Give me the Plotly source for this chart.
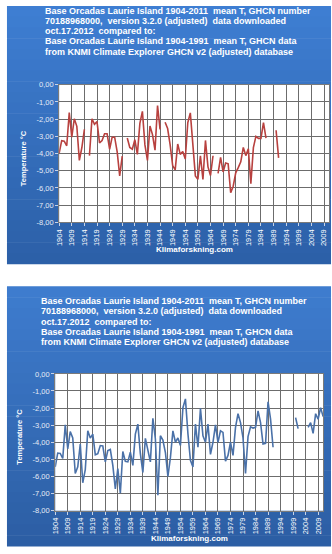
import plotly.graph_objects as go

# ---------------- data ----------------
years_v2 = list(range(1904, 1992))
temp_v2 = [
    -3.98, -3.25, -3.28, -3.55, -1.62, -3.05, -1.98, -2.42, -4.40, -3.65,  # 1904-1913
    -2.60, None, -4.12, -1.98, -2.30, -2.15, -3.38, -3.25, -2.85, -2.85,   # 1914-1923
    -3.75, -3.05, -3.05, -3.90, -5.30, -4.15, None, -3.10, -3.65, -3.75,   # 1924-1933
    -3.20, -4.05, -2.25, -1.55, -3.50, -4.40, -2.40, -2.90, -3.80, -1.22,  # 1934-1943
    -2.60, None, -2.18, -2.55, -3.50, -4.70, -4.95, -3.45, -4.05, -3.88,   # 1944-1953
    -4.32, -2.20, -1.64, -3.55, -5.30, -5.50, -4.13, -5.50, -3.24, -4.78,  # 1954-1963
    -5.27, -4.13, None, -5.16, -4.22, -5.07, -4.55, -4.60, -6.28, -5.90,   # 1964-1973
    -5.12, -4.82, -4.48, -3.65, -4.12, -3.73, -5.75, -3.66, -3.00, -3.12,  # 1974-1983
    -3.12, -2.20, -3.10, None, None, None, -2.65, -4.25,                   # 1984-1991
]

years_v3 = list(range(1904, 2012))
temp_v3 = [
    -5.44, -4.63, -4.65, -4.95, -2.98, -4.38, -3.38, -3.75, -5.83, -5.44,  # 1904-1913
    -4.10, -6.37, -5.60, -3.33, -3.75, -3.52, -4.73, -4.67, -4.19, -4.21,  # 1914-1923
    -5.15, -4.48, -4.42, -5.35, -6.73, -5.54, -6.98, -4.54, -5.12, -5.15,  # 1924-1933
    -4.58, -5.35, -3.52, -2.94, -4.67, -5.77, -3.77, -4.38, -5.15, -2.60,  # 1934-1943
    -3.81, -7.10, -3.62, -3.87, -4.60, -6.00, -4.90, -3.33, -4.00, -3.75,  # 1944-1953
    -4.19, -1.98, -1.46, -3.50, -5.06, -5.44, -2.94, -4.29, -2.02, -3.62,  # 1954-1963
    -4.00, -2.94, -4.71, -4.00, -2.98, -4.00, -3.33, -3.42, -5.10, -4.77,  # 1964-1973
    -4.00, -4.77, -3.13, -2.33, -2.85, -3.75, -5.83, -3.67, -3.10, -3.17,  # 1974-1983
    -3.13, -2.17, -2.85, -4.10, -4.06, -1.63, -2.65, -4.29, None, None,    # 1984-1993
    None, None, None, None, None, None, -2.56, -3.20, None, None,          # 1994-2003
    None, -3.13, -2.85, -3.48, -2.33, -2.65, -1.98, -2.50,                 # 2004-2011
]

y_tick_vals = [0, -1, -2, -3, -4, -5, -6, -7, -8]
y_tick_text = ["0,00", "-1,00", "-2,00", "-3,00", "-4,00", "-5,00", "-6,00", "-7,00", "-8,00"]
x_tick_vals = list(range(1904, 2012, 5))

title_lines = [
    "Base Orcadas Laurie Island 1904-2011  mean T, GHCN number",
    "70188968000,  version 3.2.0 (adjusted)  data downloaded",
    "oct.17.2012  compared to:",
    "Base Orcadas Laurie Island 1904-1991  mean T, GHCN data",
    "from KNMI Climate Explorer GHCN v2 (adjusted) database",
]
y_title = "Temperature °C"
credit = "Klimaforskning.com"

# ---------------- layout helpers ----------------
W, H = 332, 554


def px(x):
    return x / W


def py(y):
    return 1 - y / H


FONT = "Liberation Sans"

fig = go.Figure()

fig.add_trace(go.Scatter(
    x=years_v2, y=temp_v2, mode="lines", connectgaps=False,
    line=dict(color="#b8413f", width=1.6), xaxis="x", yaxis="y",
    showlegend=False, hoverinfo="skip"))

fig.add_trace(go.Scatter(
    x=years_v3, y=temp_v3, mode="lines", connectgaps=False,
    line=dict(color="#4a71a8", width=1.6), xaxis="x2", yaxis="y2",
    showlegend=False, hoverinfo="skip"))

shapes = []


def panel(x0, y0, x1, y1, c_top, c_bot, n=24):
    h = (y1 - y0) / n
    for i in range(n):
        t = i / (n - 1)
        c = tuple(int(round(a + (b - a) * t)) for a, b in zip(c_top, c_bot))
        shapes.append(dict(
            type="rect", xref="paper", yref="paper", layer="below",
            x0=px(x0), x1=px(x1), y0=py(y0 + (i + 1) * h + 0.5), y1=py(y0 + i * h),
            fillcolor="rgb(%d,%d,%d)" % c, line=dict(width=0)))


panel(2, 2, 331, 264, (62, 126, 210), (44, 96, 168))
panel(2, 287, 331, 551, (62, 124, 206), (44, 94, 164))

# white plot areas
for ax in ("x", "x2"):
    shapes.append(dict(type="rect", xref="%s domain" % ax,
                       yref="%s domain" % ax.replace("x", "y"), layer="below",
                       x0=0, x1=1, y0=0, y1=1, fillcolor="white", line=dict(width=0)))

annotations = []


def chart_texts(left, line_ys, ytitle_xy, credit_xy):
    for txt, yy in zip(title_lines, line_ys):
        annotations.append(dict(
            text="<b>%s</b>" % txt, xref="paper", yref="paper",
            x=px(left), y=py(yy), xanchor="left", yanchor="middle",
            showarrow=False, font=dict(family=FONT, size=9, color="white")))
    annotations.append(dict(
        text="<b>%s</b>" % y_title, xref="paper", yref="paper",
        x=px(ytitle_xy[0]), y=py(ytitle_xy[1]), xanchor="center", yanchor="middle",
        textangle=-90, showarrow=False, font=dict(family=FONT, size=7.5, color="white")))
    annotations.append(dict(
        text="<b>%s</b>" % credit, xref="paper", yref="paper",
        x=px(credit_xy[0]), y=py(credit_xy[1]), xanchor="center", yanchor="middle",
        showarrow=False, font=dict(family=FONT, size=8, color="white")))


chart_texts(39, [7, 17.5, 27.5, 38, 48.5], (19, 157), (192, 250))
chart_texts(35, [302, 312.5, 323, 333.5, 344], (15, 440), (187, 543))

xa = dict(range=[1904, 2011], tickvals=x_tick_vals, tickangle=-90,
          tickfont=dict(family=FONT, size=7.5, color="white"),
          showgrid=True, gridcolor="#6c6c6c", gridwidth=1,
          ticks="outside", ticklen=3, tickcolor="#c8d4e8",
          showline=True, linecolor="#7a7a7a", mirror=True, zeroline=False)
ya = dict(range=[-8, 0], tickvals=y_tick_vals, ticktext=y_tick_text,
          tickfont=dict(family=FONT, size=7.5, color="#e4ebf6"),
          showgrid=True, gridcolor="#6c6c6c", gridwidth=1,
          ticks="outside", ticklen=3, tickcolor="#c8d4e8",
          showline=True, linecolor="#7a7a7a", mirror=True, zeroline=False)

fig.update_layout(
    width=W, height=H, margin=dict(l=0, r=0, t=0, b=0),
    paper_bgcolor="white", plot_bgcolor="white",
    xaxis=dict(xa, domain=[px(55), px(329)], anchor="y"),
    yaxis=dict(ya, domain=[py(222), py(82)], anchor="x"),
    xaxis2=dict(xa, domain=[px(51), px(323)], anchor="y2"),
    yaxis2=dict(ya, domain=[py(515), py(376)], anchor="x2"),
    shapes=shapes, annotations=annotations,
)

fig.write_html("out.html")
